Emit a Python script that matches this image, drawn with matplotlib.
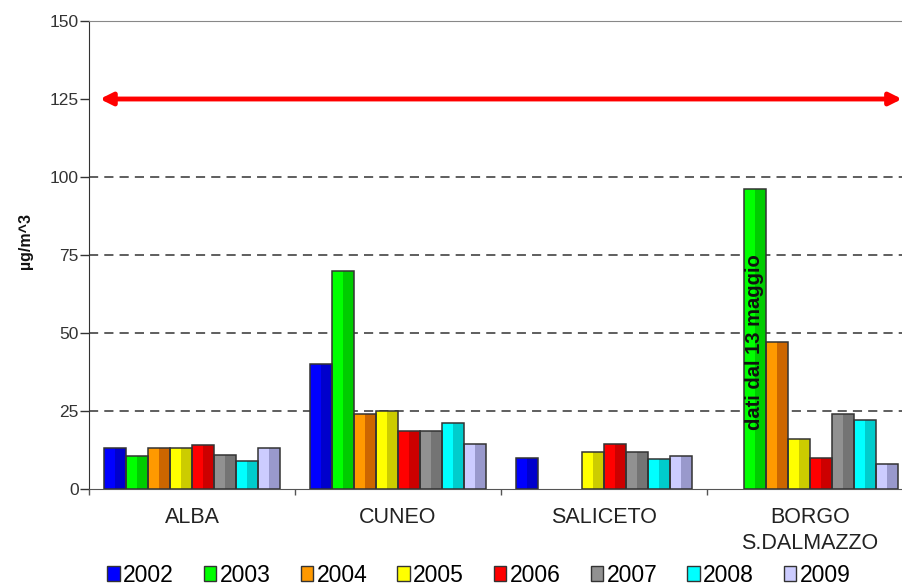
import matplotlib
matplotlib.use("Agg")
import matplotlib.pyplot as plt
from matplotlib.patches import Patch
import numpy as np

plt.rcParams['font.family'] = ['Liberation Sans', 'DejaVu Sans']

categories = ["ALBA", "CUNEO", "SALICETO", "BORGO\nS.DALMAZZO"]
years = ["2002", "2003", "2004", "2005", "2006", "2007", "2008", "2009"]
nan = np.nan
values = {
    "2002": [13, 40, 10, nan],
    "2003": [10.5, 70, nan, 96],
    "2004": [13, 24, nan, 47],
    "2005": [13, 25, 12, 16],
    "2006": [14, 18.5, 14.5, 10],
    "2007": [11, 18.5, 12, 24],
    "2008": [9, 21, 9.5, 22],
    "2009": [13, 14.5, 10.5, 8],
}
light = ["#0000FF", "#00FF00", "#FF9900", "#FFFF00", "#FF0000", "#919191", "#00FFFF", "#CCCCFF"]
dark = ["#0000CC", "#00CC00", "#CC6600", "#CCCC00", "#CC0000", "#747474", "#00CCCC", "#9999CC"]
limit_value = 125
grid_levels = [25, 50, 75, 100]
yticks = [0, 25, 50, 75, 100, 125, 150]
note_text = "dati dal 13 maggio"

fig = plt.figure(figsize=(9.02, 5.85), dpi=100)
ax = fig.add_axes([89/902, 1-489/585, 1-89/902, 468/585])

x = np.arange(len(categories))
w = 22/206
for i, yr in enumerate(years):
    pos = x + (i - 3.5) * w
    v = np.array(values[yr], dtype=float)
    ax.bar(pos, v, width=w, color=light[i], edgecolor='none', zorder=3)
    ax.bar(pos + 0.0*w, v, width=0.5*w, align='edge', color=dark[i], edgecolor='none', zorder=3)
    ax.bar(pos, v, width=w, facecolor='none', edgecolor='#333333', linewidth=1.1, zorder=4)

for g in grid_levels:
    ax.axhline(g, color='#333333', linestyle=(0, (6, 4)), linewidth=1.1, zorder=1)

ax.set_xlim(-0.5, 3.447)
ax.set_ylim(0, 150)

ax.annotate('', xy=(-0.447, limit_value), xytext=(3.447, limit_value),
            arrowprops=dict(arrowstyle='<|-|>', color='#FF0000', lw=3.5,
                            mutation_scale=18, shrinkA=0, shrinkB=0),
            annotation_clip=False, zorder=5)

# note inside BORGO 2003 bar
ax.text(3 + (1 - 3.5) * w, 47, note_text, rotation=90, ha='center', va='center',
        fontsize=14.5, fontweight='bold', color='#111111', zorder=6)

ax.set_yticks(yticks)
ax.set_yticklabels([str(t) for t in yticks])
ax.tick_params(axis='y', direction='out', length=6.5, width=1, color='#333333',
               labelsize=12.5, labelcolor='#333333', pad=1)
ax.set_xticks(x)
ax.set_xticklabels(categories, fontsize=15.5, color='#222222', linespacing=1.3)
ax.tick_params(axis='x', which='major', length=0, pad=13)
ax.set_xticks(np.arange(-0.5, 3.0, 1.0), minor=True)
ax.tick_params(axis='x', which='minor', direction='out', length=4.5, width=1, color='#555555')

ax.spines['right'].set_visible(False)
ax.spines['top'].set_color('#888888')
ax.spines['top'].set_linewidth(0.8)
ax.spines['left'].set_color('#333333')
ax.spines['bottom'].set_color('#555555')

fig.text(26/902, 1-241/585, "µg/m^3", rotation=90, ha='center', va='center',
         fontsize=11.5, fontweight='bold', color='#111111')

handles = [Patch(facecolor=light[i], edgecolor='#333333', linewidth=1, label=yr)
           for i, yr in enumerate(years)]
fig.legend(handles=handles, loc='center', bbox_to_anchor=(479/902, 1-575/585), ncol=8,
           frameon=False, fontsize=16.5, handlelength=0.55, handleheight=0.6,
           handletextpad=0.15, columnspacing=1.3, borderaxespad=0, borderpad=0)

fig.savefig("out.png", dpi=100)
